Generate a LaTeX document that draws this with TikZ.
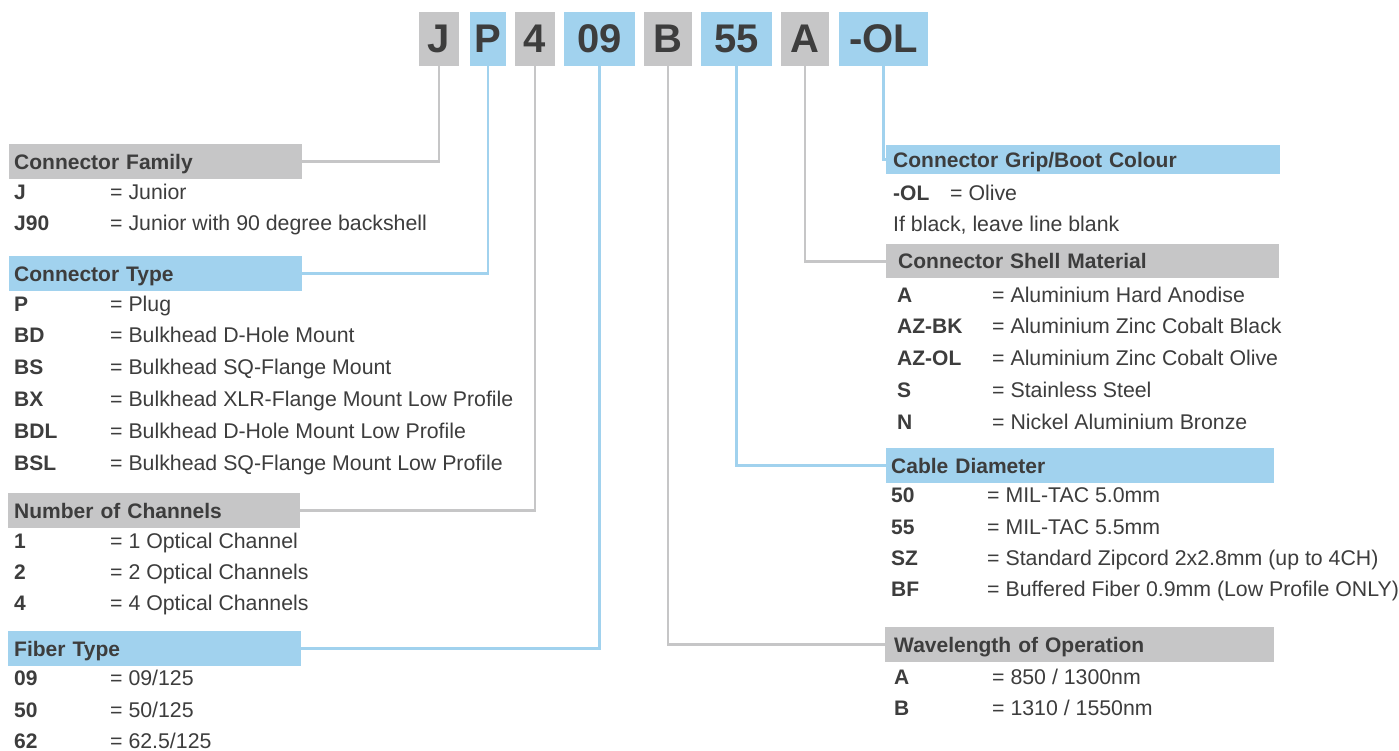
\documentclass[tikz,border=0pt]{standalone}
\usepackage{fontspec}
\setmainfont{Liberation Sans}
\definecolor{gbox}{RGB}{198,198,199}
\definecolor{bbox}{RGB}{161,210,238}
\definecolor{txt}{RGB}{61,61,61}
\tikzset{
  topbox/.style={minimum height=54pt, inner sep=0pt, text=txt, font=\fontsize{40}{44}\selectfont\bfseries},
  hdrbox/.style={inner ysep=0pt, text=txt, align=left, text height=15pt, text depth=0pt, font=\fontsize{21}{25}\selectfont\bfseries},
  lbl/.style={anchor=west, inner sep=0pt, text=txt, text height=15pt, text depth=0pt, font=\fontsize{21}{25}\selectfont\bfseries},
  dsc/.style={anchor=west, inner sep=0pt, text=txt, text height=15pt, text depth=0pt, font=\fontsize{21.3}{25}\selectfont},
  gline/.style={draw=gbox, line width=2.8pt},
  bline/.style={draw=bbox, line width=2.8pt},
}
\newcommand{\hdr}[8]{%
  \pgfmathsetmacro\hw{#5-#3}\pgfmathsetmacro\hh{#6-#4}%
  \pgfmathsetmacro\hs{#7-#3}\pgfmathsetmacro\htw{#5-#3-2*(#7-#3)}%
  \node[hdrbox, fill=#2, anchor=north west, minimum width=\hw pt, minimum height=\hh pt,
        inner xsep=\hs pt, text width=\htw pt] (#1) at (#3,#4) {#8};}
\newcommand{\entry}[6]{%
  \node[lbl] (#1l) at (#2,#4) {#5};
  \node[dsc] (#1d) at (#3,#4) {#6};}
\begin{document}
\begin{tikzpicture}[x=1pt,y=-1pt]
\useasboundingbox (0,0) rectangle (1399,751);
\fill[white] (0,0) rectangle (1399,751);

% top code boxes
\node[topbox, fill=gbox, minimum width=40pt] (cJ) at (439,39) {J};
\node[topbox, fill=bbox, minimum width=36pt] (cP) at (488,39) {P};
\node[topbox, fill=gbox, minimum width=40pt] (c4) at (535,39) {4};
\node[topbox, fill=bbox, minimum width=71pt] (c09) at (599.5,39) {09};
\node[topbox, fill=gbox, minimum width=48pt] (cB) at (668,39) {B};
\node[topbox, fill=bbox, minimum width=71pt] (c55) at (736.5,39) {55};
\node[topbox, fill=gbox, minimum width=48pt] (cA) at (805,39) {A};
\node[topbox, fill=bbox, minimum width=89pt] (cOL) at (883.5,39) {-OL};

% left headers
\hdr{fam}{gbox}{9}{144}{302}{179}{14}{Connector Family}
\hdr{typ}{bbox}{9}{256}{302}{291}{14}{Connector Type}
\hdr{chan}{gbox}{8}{493}{300}{528}{14}{Number of Channels}
\hdr{fib}{bbox}{8}{631}{301}{666}{14}{Fiber Type}

% right headers
\hdr{grip}{bbox}{886}{145}{1280}{174}{893}{Connector Grip/Boot Colour}
\hdr{shell}{gbox}{886}{244}{1279}{278}{898}{Connector Shell Material}
\hdr{cab}{bbox}{886}{448}{1274}{483}{891}{Cable Diameter}
\hdr{wave}{gbox}{885}{627}{1274}{662}{894}{Wavelength of Operation}

% connectors
\draw[gline] (cJ.south) |- (fam.east);
\draw[bline] (cP.south) |- (typ.east);
\draw[gline] (c4.south) |- (chan.east);
\draw[bline] (c09.south) |- (fib.east);
\draw[gline] (cB.south) |- (wave.west);
\draw[bline] (c55.south) |- (cab.west);
\draw[gline] (cA.south) |- (shell.west);
\draw[bline] (cOL.south) |- (grip.west);

% left entries
\entry{fa}{14}{110}{192}{J}{= Junior}
\entry{fb}{14}{110}{223}{J90}{= Junior with 90 degree backshell}
\entry{ta}{14}{110}{304}{P}{= Plug}
\entry{tb}{14}{110}{335}{BD}{= Bulkhead D-Hole Mount}
\entry{tc}{14}{110}{367}{BS}{= Bulkhead SQ-Flange Mount}
\entry{td}{14}{110}{399}{BX}{= Bulkhead XLR-Flange Mount Low Profile}
\entry{te}{14}{110}{431}{BDL}{= Bulkhead D-Hole Mount Low Profile}
\entry{tf}{14}{110}{463}{BSL}{= Bulkhead SQ-Flange Mount Low Profile}
\entry{ca}{14}{110}{541}{1}{= 1 Optical Channel}
\entry{cb}{14}{110}{572}{2}{= 2 Optical Channels}
\entry{cc}{14}{110}{603}{4}{= 4 Optical Channels}
\entry{ia}{14}{110}{678}{09}{= 09/125}
\entry{ib}{14}{110}{710}{50}{= 50/125}
\entry{ic}{14}{110}{740.5}{62}{= 62.5/125}

% right entries
\entry{ga}{893}{950}{193}{-OL}{= Olive}
\node[dsc] (gnote) at (893,224) {If black, leave line blank};
\entry{sa}{897}{992}{295}{A}{= Aluminium Hard Anodise}
\entry{sb}{897}{992}{326}{AZ-BK}{= Aluminium Zinc Cobalt Black}
\entry{sc}{897}{992}{358}{AZ-OL}{= Aluminium Zinc Cobalt Olive}
\entry{sd}{897}{992}{390}{S}{= Stainless Steel}
\entry{se}{897}{992}{422}{N}{= Nickel Aluminium Bronze}
\entry{da}{891}{987}{495}{50}{= MIL-TAC 5.0mm}
\entry{db}{891}{987}{527}{55}{= MIL-TAC 5.5mm}
\entry{dc}{891}{987}{558}{SZ}{= Standard Zipcord 2x2.8mm (up to 4CH)}
\entry{dd}{891}{987}{589}{BF}{= Buffered Fiber 0.9mm (Low Profile ONLY)}
\entry{wa}{894}{992}{677}{A}{= 850 / 1300nm}
\entry{wb}{894}{992}{708}{B}{= 1310 / 1550nm}
\end{tikzpicture}
\end{document}
